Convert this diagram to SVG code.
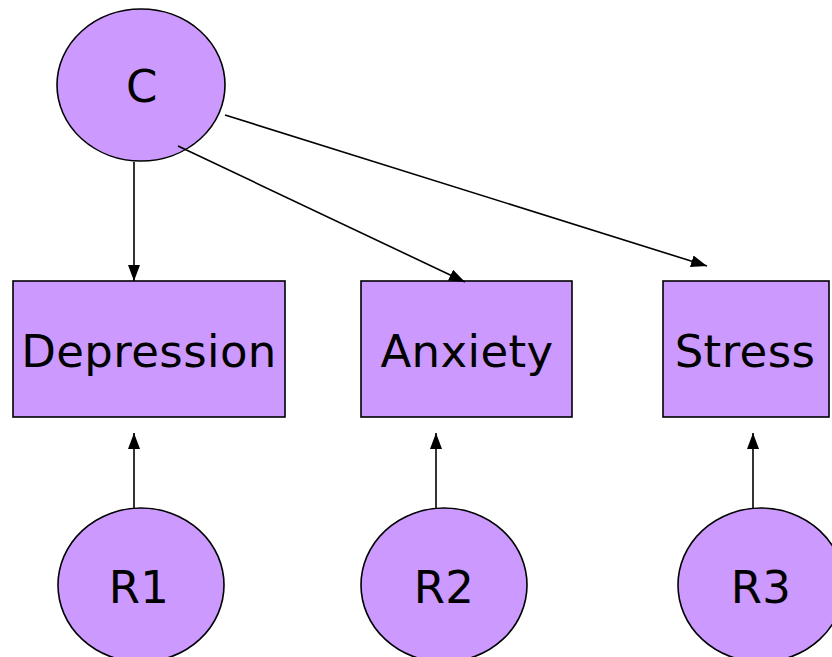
<svg xmlns="http://www.w3.org/2000/svg" width="832" height="657" viewBox="0 0 832 657">
<style>
.n{fill:#CC99FF;stroke:#000;stroke-width:1.6}
.t{font-family:"DejaVu Sans",Verdana,sans-serif;font-size:45px;fill:#000;text-anchor:middle;letter-spacing:0.4px}
.c{stroke:#000;stroke-width:1.6;fill:none;marker-end:url(#ah)}
</style>
<defs>
<marker id="ah" markerUnits="userSpaceOnUse" markerWidth="16" markerHeight="12" viewBox="0 0 16 12" refX="16" refY="6" orient="auto">
<path d="M0,0 L16,6 L0,12 z" fill="#000"/>
</marker>
</defs>
<rect width="832" height="657" fill="#fff"/>
<g id="C"><ellipse class="n" cx="141" cy="85" rx="84" ry="76"/><text class="t" x="142" y="102">C</text></g>
<g id="Depression"><rect class="n" x="13" y="281" width="272" height="136"/><text class="t" x="149" y="367">Depression</text></g>
<g id="Anxiety"><rect class="n" x="361" y="281" width="211" height="136"/><text class="t" x="467" y="367">Anxiety</text></g>
<g id="Stress"><rect class="n" x="663" y="281" width="166" height="136"/><text class="t" x="745" y="367">Stress</text></g>
<g id="R1"><ellipse class="n" cx="141" cy="585" rx="83" ry="77"/><text class="t" x="139" y="603">R1</text></g>
<g id="R2"><ellipse class="n" cx="444" cy="585" rx="83" ry="77"/><text class="t" x="444" y="603">R2</text></g>
<g id="R3"><ellipse class="n" cx="761" cy="585" rx="83" ry="77"/><text class="t" x="761" y="603">R3</text></g>
<g id="connectors">
<line class="c" x1="134" y1="162" x2="134" y2="281"/>
<line class="c" x1="178" y1="146" x2="465" y2="282"/>
<line class="c" x1="225" y1="115" x2="707" y2="266"/>
<line class="c" x1="134" y1="508" x2="134" y2="433"/>
<line class="c" x1="436" y1="508" x2="436" y2="433"/>
<line class="c" x1="753" y1="508" x2="753" y2="433"/>
</g>
</svg>
